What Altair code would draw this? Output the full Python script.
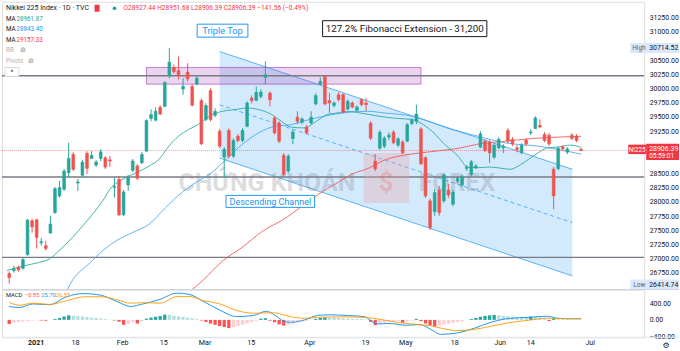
import altair as alt
import pandas as pd

FONT = "Roboto"
UP, DOWN = "#26a69a", "#ef5350"
INK = "#131722"

# ---------------- daily candles (bar index 0..125) ----------------
opens = [26736, 26788, 26846, 26829, 27070, 27667, 27684, 27280, 27228, 27451,
         27812, 28106, 28224, 28515, 28838, 28334, 28469, 28856, 28768, 28650,
         28768, 28779, 28743, 28255, 28399, 27772, 28299, 28557, 28633, 28691,
         28896, 29471, 29441, 29669, 29687, 30226, 30372, 30314, 29991, 30289,
         30038, 30078, 29787, 29453, 29962, 29529, 29248, 28791, 29260, 28808,
         29160, 29084, 29335, 29832, 29792, 29862, 30196, 29920, 29481, 29393,
         28821, 28545, 29119, 29494, 29406, 29318, 29393, 29727, 30078, 30214,
         29787, 29704, 29892, 29892, 29639, 29745, 29616, 29804, 29745, 29388,
         28721, 28949, 28984, 29142, 29230, 29002, 29054, 29072, 29383, 29423,
         29288, 28779, 28018, 27830, 28206, 28018, 28211, 27960, 28369, 28299,
         28592, 28487, 28603, 28967, 29072, 29054, 28791, 28954, 28954, 29260,
         29102, 28954, 28866, 29090, 29218, 29295, 29348, 29190, 29177, 28575,
         28585, 28967, 28879, 29177, 29160, 28927.44]
highs = [26771, 26876, 26876, 27017, 27702, 27702, 27702, 27368, 27315, 27755,
         28264, 28369, 28580, 29042, 28879, 28404, 28738, 28896, 28896, 28738,
         28931, 28808, 28808, 28427, 28457, 28211, 28475, 28756, 28668, 28879,
         29458, 29634, 29669, 29704, 30126, 30714.52, 30424, 30565, 30184, 30447,
         30073, 30214, 29827, 29739, 30003, 29652, 29283, 28967, 29300, 29125,
         29195, 29300, 29774, 29880, 30038, 29985, 30477, 29950, 29511, 29423,
         28861, 28844, 29283, 29599, 29494, 29353, 29599, 29915, 30196, 30231,
         29920, 29774, 29933, 29915, 29810, 29774, 29704, 29827, 29832, 29423,
         28844, 29265, 29160, 29230, 29265, 29142, 29090, 29388, 29476, 29716,
         29318, 28808, 28053, 28229, 28282, 28510, 28317, 28211, 28457, 28475,
         28650, 28738, 28668, 29248, 29107, 29090, 29037, 29142, 29019, 29300,
         29142, 29002, 29037, 29125, 29283, 29511, 29458, 29230, 29212, 28615,
         28984, 29002, 28967, 29212, 29195, 28951.68]
lows = [26560, 26753, 26771, 26806, 27052, 27456, 27175, 27228, 27140, 27438,
        27790, 28071, 28194, 28427, 28545, 28194, 28440, 28492, 28756, 28615,
        28721, 28580, 28615, 28076, 27755, 27755, 28194, 28527, 28387, 28668,
        28879, 29423, 29423, 29529, 29669, 30184, 30266, 30161, 29892, 30126,
        29687, 30056, 29002, 29423, 29423, 29494, 28949, 28427, 28773, 28773,
        29054, 29054, 29318, 29739, 29774, 29827, 30073, 29687, 29195, 29037,
        28457, 28510, 29019, 29370, 29370, 29195, 29370, 29704, 30056, 29704,
        29569, 29669, 29774, 29564, 29616, 29652, 29599, 29687, 29599, 29090,
        28545, 28914, 28949, 29090, 29019, 28967, 28844, 29054, 29353, 29370,
        28650, 28071, 27503, 27755, 27755, 27983, 28071, 27930, 28334, 28264,
        28545, 28457, 28580, 28949, 28879, 28691, 28756, 28931, 28861, 29037,
        28984, 28879, 28844, 28984, 29177, 29283, 29300, 29054, 28984, 27872,
        28562, 28896, 28844, 29090, 29054, 28906.39]
closes = [26666, 26824, 26801, 26982, 27679, 27561, 27373, 27298, 27180, 27609,
          28234, 28252, 28545, 28768, 28575, 28352, 28703, 28592, 28821, 28703,
          28884, 28615, 28721, 28269, 27772, 28176, 28427, 28721, 28417, 28838,
          29436, 29541, 29599, 29551, 30108, 30465, 30301, 30244, 30038, 30173,
          29704, 30184, 29025, 29699, 29453, 29599, 28984, 28926, 28808, 29084,
          29084, 29260, 29745, 29787, 29933, 29938, 30244, 29804, 29218, 29072,
          28487, 28808, 29235, 29423, 29464, 29218, 29494, 29875, 30126, 29727,
          29745, 29745, 29804, 29581, 29774, 29674, 29674, 29716, 29716, 29125,
          28585, 29230, 29125, 29177, 29042, 29112, 28866, 29365, 29441, 29551,
          28673, 28106, 27549, 28164, 27812, 28475, 28123, 28176, 28417, 28440,
          28615, 28708, 28633, 29200, 28909, 28866, 29002, 29102, 28984, 29072,
          29025, 28926, 29002, 29025, 29235, 29481, 29323, 29084, 29025, 28106,
          28944, 28937, 28937, 29119, 29084, 28906.39]

# ---------------- moving averages ----------------
ma_fast_i = [-0.5, 3.1, 6.6, 8.8, 10.9, 13.8, 16.7, 18.8, 20.9, 22.0, 24.2, 27.0, 30.6,
             32.7, 34.9, 37.0, 39.2, 41.3, 43.8, 46.0, 49.4, 52.0, 54.5, 57.4, 59.5, 61.7,
             64.4, 67.4, 69.5, 71.7, 73.8, 76.7, 78.8, 82.4, 85.2, 88.1, 89.9, 92.4, 95.2,
             98.1, 100.2, 102.4, 104.9, 108.4, 109.5, 111.3, 113.5, 115.6, 117.7, 119.9,
             122.7, 125.0]
ma_fast_v = [26788, 26871, 26934, 26994, 27140, 27373, 27637, 27842, 28076, 28224, 28369,
             28487, 28633, 28750, 28984, 29160, 29277, 29365, 29511, 29587, 29629, 29657,
             29629, 29541, 29423, 29318, 29306, 29436, 29541, 29569, 29599, 29569, 29541,
             29493, 29471, 29453, 29393, 29248, 29014, 28808, 28615, 28603, 28615, 28585,
             28575, 28633, 28750, 28866, 28954, 28967, 29002, 28961.87]
ma_mid_i = [12.4, 13.8, 17.4, 20.9, 23.4, 27.0, 30.6, 34.2, 37.7, 41.3, 43.8, 47.4, 50.9,
            54.5, 58.1, 61.7, 64.2, 67.7, 71.3, 74.9, 78.4, 82.0, 88.1, 91.7, 95.2, 102.4,
            108.4, 115.6, 125.0]
ma_mid_v = [26402, 26613, 26906, 27170, 27315, 27461, 27609, 27900, 28164, 28369, 28487,
            28750, 29014, 29218, 29335, 29365, 29423, 29493, 29551, 29587, 29599, 29569,
            29511, 29423, 29318, 29160, 29042, 28984, 28843.40]
ma_slow_i = [39.2, 42.3, 46.7, 50.9, 55.2, 60.6, 63.8, 67.7, 71.3, 74.9, 78.8, 82.0, 85.2,
             89.5, 95.2, 98.1, 102.4, 108.4, 115.6, 125.0]
ma_slow_v = [26402, 26613, 26962, 27198, 27474, 27725, 27913, 28141, 28317, 28487, 28603,
             28738, 28808, 28861, 28914, 28944, 29019, 29072, 29125, 29157.33]

# ---------------- drawings ----------------
chan_i = [46.0, 123.1]
chan_top = [30653, 28575]
chan_mid = [29713, 27635]
chan_bot = [28773, 26695]
zone_i = [30.0, 90.0]
zone_p = [30078, 30372]
level_p = [30226, 28440, 27022]
last_price = [28906.39]

# ---------------- MACD pane ----------------
hist = [-100, -70, -55, -40, -30, -20, -10, -15, -20, -5,
        20, 45, 80, 110, 100, 90, 80, 70, 55, 45,
        35, 20, 5, -15, -45, -120, -100, -60, -90, -30,
        30, 55, 75, 95, 130, 120, 100, 85, 70, 55,
        40, 20, -15, -50, -90, -120, -150, -175, -200, -180,
        -150, -120, -90, -55, -20, 30, 40, -20, -60, -110,
        -140, -120, -90, -60, -40, -20, -5, 25, 45, 60,
        55, 50, 45, 40, 35, 30, 25, 20, 10, -50,
        -130, -100, -80, -60, -40, -25, -70, -40, -10, 25,
        -30, -90, -130, -160, -140, -115, -95, -75, -55, -35,
        -10, 20, 45, 75, 95, 110, 120, 110, 100, 90,
        80, 70, 60, 50, 80, 75, 60, 45, -30, 35,
        30, 25, 20, 12, 5, -0.85]
macd_i = [0, 2.3, 5.1, 8.8, 12.5, 16.2, 20.0, 23.7, 26.5, 29.2, 33.0, 36.7, 39.5, 42.3,
          46.0, 49.7, 53.4, 56.2, 58.0, 60.0, 61.5, 64.6, 67.4, 70.1, 73.9, 77.6, 80.4,
          83.1, 86.9, 89.7, 92.4, 94.3, 98.0, 101.7, 105.5, 109.2, 113.8, 117.5, 120.3, 125.0]
macd_v = [326, 299, 387, 370, 560, 640, 600, 440, 326, 387, 502, 651, 616, 458, 238, 79,
          106, 211, 120, -30, -60, 0, 106, 123, 106, 79, -100, -88, -132, -114, -246,
          -352, -317, -202, -53, 35, 62, 88, 35, 25.70]
signal_v = [426, 354, 407, 375, 465, 560, 565, 485, 406, 417, 407, 566, 566, 473, 388, 229,
            161, 171, 170, 120, 80, 40, 60, 70, 72, 60, 25, -28, -92, -120, -150, -200,
            -262, -232, -150, -70, -5, 40, 35, 26.55]

# ---------------- time axis ----------------
time_i = [14.5, 24.8, 33.8, 42.8, 52.9, 65.7, 77.9, 86.7, 97.4, 107.3, 114.0, 127.0]
time_t = ["18", "Feb", "15", "Mar", "15", "Apr", "19", "May", "18", "Jun", "14", "Jul"]
year_i = [5.9]
year_t = ["2021"]
price_ticks = [31250, 31000, 30500, 30250, 30000, 29750, 29500, 29250,
               28500, 28250, 28000, 27750, 27500, 27250, 27000, 26750]

# =====================================================================
n = len(opens)
candles = pd.DataFrame({"i": list(range(n)), "open": opens, "high": highs,
                        "low": lows, "close": closes})
ONE = pd.DataFrame({"k": [0]})

W, H, HM = 645, 289, 48
xs = alt.Scale(domain=[-0.49, 137.7], nice=False, zero=False)
ys = alt.Scale(domain=[26455, 31531], nice=False, zero=False)
ms = alt.Scale(domain=[-424, 739], nice=False, zero=False)

price_axis = alt.Axis(orient="right", values=price_ticks, format=".2f", ticks=False,
                      domain=False, grid=False, labelPadding=5, labelFontSize=7,
                      labelColor=INK, labelFont=FONT, title=None)
macd_axis = alt.Axis(orient="right", values=[400, 0, -400], format=".2f", ticks=False,
                     domain=False, grid=False, labelPadding=5, labelFontSize=7,
                     labelColor=INK, labelFont=FONT, title=None)


def X(f="i"):
    return alt.X(f"{f}:Q", scale=xs, axis=None)


def Y(f):
    return alt.Y(f"{f}:Q", scale=ys, axis=price_axis)


def txt(t, x, y, size=7, color=INK, align="left", weight="normal", font=FONT,
        opacity=1.0, baseline="middle"):
    return alt.Chart(ONE).mark_text(text=t, fontSize=size, color=color, align=align,
                                    baseline=baseline, fontWeight=weight, font=font,
                                    opacity=opacity).encode(x=alt.value(x), y=alt.value(y))


def box(x1, x2, y1, y2, fill="white", stroke=None, sw=1.0, fo=1.0, so=1.0):
    kw = dict(fill=fill, fillOpacity=fo)
    if stroke:
        kw.update(stroke=stroke, strokeWidth=sw, strokeOpacity=so)
    return alt.Chart(ONE).mark_rect(**kw).encode(x=alt.value(x1), x2=alt.value(x2),
                                                 y=alt.value(y1), y2=alt.value(y2))


is_up = "datum.close >= datum.open"
candle_col = alt.condition(is_up, alt.value(UP), alt.value(DOWN))

chan = pd.DataFrame({"i": chan_i, "top": chan_top, "mid": chan_mid, "bot": chan_bot})
chan_fill = alt.Chart(chan).mark_area(color="#2196f3", opacity=0.2).encode(
    x=X(), y=Y("top"), y2="bot:Q")
chan_lines = [alt.Chart(chan).mark_line(color="#2196f3", strokeWidth=1, opacity=0.7).encode(
    x=X(), y=Y(c)) for c in ("top", "bot")]
chan_midline = alt.Chart(chan).mark_line(color="#2196f3", strokeWidth=1, opacity=0.7,
                                         strokeDash=[4, 3]).encode(x=X(), y=Y("mid"))

zone = pd.DataFrame({"a": [zone_i[0]], "b": [zone_i[1]], "lo": [zone_p[0]], "hi": [zone_p[1]]})
zone_rect = alt.Chart(zone).mark_rect(fill="#9c27b0", fillOpacity=0.2, stroke="#9c27b0",
                                      strokeOpacity=0.55, strokeWidth=1).encode(
    x=X("a"), x2="b:Q", y=Y("lo"), y2="hi:Q")

levels = alt.Chart(pd.DataFrame({"p": level_p})).mark_rule(
    color="#787b86", strokeWidth=1.3).encode(y=Y("p"))
lastline = alt.Chart(pd.DataFrame({"p": last_price})).mark_rule(
    color="#f23645", strokeWidth=1, opacity=0.5, strokeDash=[1, 1]).encode(y=Y("p"))

WM = "#787b86"
watermark = [
    txt("CHỨNG KHOÁN", 266, 190, size=25, color=WM, align="center", weight="bold",
        opacity=0.25, baseline="alphabetic"),
    txt("FOREX", 457, 190, size=25, color=WM, align="center", weight="bold",
        opacity=0.25, baseline="alphabetic"),
    box(363, 409, 152, 202, fill="#ef9a9a", fo=0.3),
    txt("$", 386, 190, size=26, color="#e57373", align="center", weight="bold",
        opacity=0.3, baseline="alphabetic"),
]


def ma_line(ii, vv, color):
    d = pd.DataFrame({"i": ii, "v": vv})
    return alt.Chart(d).mark_line(color=color, strokeWidth=1, interpolate="monotone",
                                  clip=True, opacity=0.85).encode(x=X(), y=Y("v"))


mas = [ma_line(ma_slow_i, ma_slow_v, "#ef5350"),
       ma_line(ma_mid_i, ma_mid_v, "#42a5f5"),
       ma_line(ma_fast_i, ma_fast_v, "#26a69a")]

wicks = alt.Chart(candles).mark_rule(strokeWidth=1).encode(
    x=X(), y=Y("low"), y2="high:Q", color=candle_col)
bodies = alt.Chart(candles).mark_bar(width=2.8, strokeWidth=0.6).encode(
    x=X(), y=Y("open"), y2="close:Q", fill=candle_col, stroke=candle_col)

notes = [
    box(196, 247, 22.5, 35.5, stroke="#2196f3"),
    txt("Triple Top", 221.5, 29.5, size=9.3, color="#2196f3", align="center"),
    box(225, 314, 194.5, 206.5, stroke="#2196f3"),
    txt("Descending Channel", 269.5, 200.8, size=9, color="#2196f3", align="center"),
    box(322, 487, 19, 35, stroke=INK),
    txt("127.2% Fibonacci Extension - 31,200", 404.5, 27.3, size=9.8, color=INK,
        align="center"),
]

tags = [
    box(631, 680, 41.5, 51.5, fill="#dbe8fb"),
    txt("High", 633, 46.7, size=6.5, color="#5d606b"),
    txt("30714.52", 650, 46.7, size=7, color=INK),
    box(629, 647, 143.5, 153, fill="#f23645"),
    txt("NI225", 638, 148.4, size=6.3, color="white", align="center"),
    box(647, 680, 142.5, 159, fill="#f23645"),
    txt("28906.39", 650, 147.6, size=7, color="white"),
    txt("05:59:01", 650, 154.6, size=6.5, color="white"),
    box(631, 680, 279, 289, fill="#dbe8fb"),
    txt("Low", 634, 284.2, size=6.5, color="#5d606b"),
    txt("26414.74", 650, 284.2, size=7, color=INK),
]

GRAY = "#b2b5be"
header = [
    txt("Nikkei 225 Index · 1D · TVC", 4, 6.5, size=7),
    box(93, 98, 3, 10, fill="#f23645"),
    alt.Chart(ONE).mark_circle(size=14, color="#26a69a", opacity=1).encode(
        x=alt.value(113), y=alt.value(6.5)),
    txt("O28927.44 H28951.68 L28906.39 C28906.39 −141.56 (−0.49%)", 122, 6.5, size=6.6,
        color="#f23645"),
    txt("MA", 4, 17, size=6.3), txt("28961.87", 14.5, 17, size=6.3, color="#26a69a"),
    txt("MA", 4, 27.5, size=6.3), txt("28843.40", 14.5, 27.5, size=6.3, color="#2196f3"),
    txt("MA", 4, 38, size=6.3), txt("29157.33", 14.5, 38, size=6.3, color="#f23645"),
    txt("BB", 4, 48.5, size=6.3, color=GRAY), txt("⊘", 18, 48.5, size=7, color="#787b86"),
    txt("Pivots", 4, 59.5, size=6.3, color=GRAY), txt("⊘", 26, 59.5, size=7, color="#787b86"),
    box(3, 17, 66, 75, fill="white", stroke="#d1d4dc", sw=0.8),
    txt("^", 10, 71.5, size=7, color=INK, align="center"),
]

price = alt.layer(chan_fill, zone_rect, *chan_lines, chan_midline, levels, lastline,
                  *watermark, *mas, wicks, bodies, *notes, *tags, *header).properties(
    width=W, height=H)

# ---------------- MACD pane ----------------
hd = pd.DataFrame({"i": list(range(len(hist))), "h": hist})
hd["rise"] = hd["h"] >= hd["h"].shift(1)
hist_bars = alt.Chart(hd).transform_calculate(
    col="datum.h >= 0 ? (datum.rise ? '#26a69a' : '#b2dfdb') : (datum.rise ? '#ffcdd2' : '#ff5252')"
).mark_bar(width=3.3).encode(
    x=X(), y=alt.Y("h:Q", scale=ms, axis=macd_axis), y2=alt.datum(0),
    fill=alt.Fill("col:N", scale=None))
md = pd.DataFrame({"i": macd_i, "m": macd_v, "s": signal_v})
macd_line = alt.Chart(md).mark_line(color="#2196f3", strokeWidth=1,
                                    interpolate="monotone").encode(
    x=X(), y=alt.Y("m:Q", scale=ms, axis=macd_axis))
sig_line = alt.Chart(md).mark_line(color="#ff9800", strokeWidth=1, opacity=0.9,
                                   interpolate="monotone").encode(
    x=X(), y=alt.Y("s:Q", scale=ms, axis=macd_axis))

sep_top = alt.Chart(ONE).mark_rule(color="#d1d4dc", strokeWidth=1).encode(
    x=alt.value(0), x2=alt.value(680), y=alt.value(0))
sep_bot = alt.Chart(ONE).mark_rule(color="#e0e3eb", strokeWidth=1).encode(
    x=alt.value(0), x2=alt.value(680), y=alt.value(HM))

tlab = alt.Chart(pd.DataFrame({"i": time_i, "t": time_t})).mark_text(
    fontSize=7.2, color=INK, font=FONT, baseline="middle").encode(
    x=X(), y=alt.value(54), text="t:N")
ylab = alt.Chart(pd.DataFrame({"i": year_i, "t": year_t})).mark_text(
    fontSize=7.2, color=INK, font=FONT, fontWeight="bold", baseline="middle").encode(
    x=X(), y=alt.value(54), text="t:N")

macd_head = [
    txt("MACD", 4, 5.5, size=5.8),
    txt("−0.85", 23, 5.5, size=5.8, color="#ff5252"),
    txt("25.70", 39.5, 5.5, size=5.8, color="#2196f3"),
    txt("26.55", 54, 5.5, size=5.8, color="#ff9800"),
    txt("⚙", 667, 56.5, size=8, color=INK, align="center", font="DejaVu Sans"),
]

macd = alt.layer(hist_bars, macd_line, sig_line, sep_top, sep_bot, tlab, ylab,
                 *macd_head).properties(width=W, height=HM)

chart = alt.vconcat(price, macd, spacing=0, bounds="flush").resolve_scale(
    x="independent", y="independent").properties(
    padding={"left": 0, "top": 0, "right": 0, "bottom": 0},
    background="white").configure_view(stroke=None).configure(font=FONT)

chart.save("out.html", embed_options={"renderer": "svg", "actions": False})
